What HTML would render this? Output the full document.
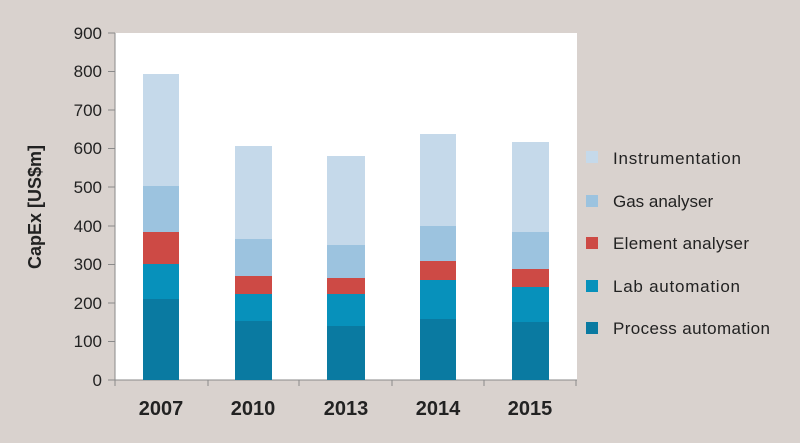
<!DOCTYPE html>
<html><head><style>body{margin:0}svg{display:block}</style></head><body>
<svg width="800" height="443" xmlns="http://www.w3.org/2000/svg" font-family="Liberation Sans, sans-serif">
<rect width="800" height="443" fill="#d9d2ce"/>
<rect x="115" y="33" width="462" height="347" fill="#fff"/>
<g stroke="#8a8a8a" stroke-width="1">
<line x1="115" y1="33" x2="115" y2="380"/>
<line x1="115" y1="380" x2="577" y2="380"/>
<line x1="108" y1="33" x2="115" y2="33"/><line x1="108" y1="71.5" x2="115" y2="71.5"/><line x1="108" y1="110" x2="115" y2="110"/><line x1="108" y1="148.5" x2="115" y2="148.5"/><line x1="108" y1="187" x2="115" y2="187"/><line x1="108" y1="226" x2="115" y2="226"/><line x1="108" y1="264.5" x2="115" y2="264.5"/><line x1="108" y1="303" x2="115" y2="303"/><line x1="108" y1="341.5" x2="115" y2="341.5"/><line x1="108" y1="380" x2="115" y2="380"/>
<line x1="115" y1="380" x2="115" y2="386"/><line x1="208" y1="380" x2="208" y2="386"/><line x1="299" y1="380" x2="299" y2="386"/><line x1="392" y1="380" x2="392" y2="386"/><line x1="484" y1="380" x2="484" y2="386"/><line x1="576" y1="380" x2="576" y2="386"/>
</g>
<g font-size="17" fill="#222" text-anchor="end">
<text x="102" y="39">900</text><text x="102" y="77">800</text><text x="102" y="116">700</text><text x="102" y="154">600</text><text x="102" y="193">500</text><text x="102" y="232">400</text><text x="102" y="270">300</text><text x="102" y="309">200</text><text x="102" y="347">100</text><text x="102" y="386">0</text>
</g>
<text transform="translate(41,207) rotate(-90)" text-anchor="middle" font-size="18" font-weight="bold" fill="#222">CapEx [US$m]</text>
<g font-size="20" font-weight="bold" fill="#222" text-anchor="middle">
<text x="161" y="415">2007</text><text x="253" y="415">2010</text><text x="346" y="415">2013</text><text x="438" y="415">2014</text><text x="530" y="415">2015</text>
</g>
<g>
<rect x="143" y="74" width="36" height="112" fill="#c5d9ea"/><rect x="143" y="186" width="36" height="46" fill="#9cc3df"/><rect x="143" y="232" width="36" height="32" fill="#cd4a45"/><rect x="143" y="264" width="36" height="35" fill="#0791bb"/><rect x="143" y="299" width="36" height="81" fill="#0a7aa1"/>
<rect x="235" y="146" width="37" height="93" fill="#c5d9ea"/><rect x="235" y="239" width="37" height="37" fill="#9cc3df"/><rect x="235" y="276" width="37" height="18" fill="#cd4a45"/><rect x="235" y="294" width="37" height="27" fill="#0791bb"/><rect x="235" y="321" width="37" height="59" fill="#0a7aa1"/>
<rect x="327" y="156" width="38" height="89" fill="#c5d9ea"/><rect x="327" y="245" width="38" height="33" fill="#9cc3df"/><rect x="327" y="278" width="38" height="16" fill="#cd4a45"/><rect x="327" y="294" width="38" height="32" fill="#0791bb"/><rect x="327" y="326" width="38" height="54" fill="#0a7aa1"/>
<rect x="420" y="134" width="36" height="92" fill="#c5d9ea"/><rect x="420" y="226" width="36" height="35" fill="#9cc3df"/><rect x="420" y="261" width="36" height="19" fill="#cd4a45"/><rect x="420" y="280" width="36" height="39" fill="#0791bb"/><rect x="420" y="319" width="36" height="61" fill="#0a7aa1"/>
<rect x="512" y="142" width="37" height="90" fill="#c5d9ea"/><rect x="512" y="232" width="37" height="37" fill="#9cc3df"/><rect x="512" y="269" width="37" height="18" fill="#cd4a45"/><rect x="512" y="287" width="37" height="35" fill="#0791bb"/><rect x="512" y="322" width="37" height="58" fill="#0a7aa1"/>
</g>
<g font-size="17" fill="#222">
<rect x="586" y="151" width="12" height="12" fill="#c5d9ea"/><text x="613" y="164" textLength="128">Instrumentation</text>
<rect x="586" y="195" width="12" height="12" fill="#9cc3df"/><text x="613" y="207">Gas analyser</text>
<rect x="586" y="237" width="12" height="12" fill="#cd4a45"/><text x="613" y="249" textLength="136">Element analyser</text>
<rect x="586" y="280" width="12" height="12" fill="#0791bb"/><text x="613" y="292" textLength="127">Lab automation</text>
<rect x="586" y="322" width="12" height="12" fill="#0a7aa1"/><text x="613" y="334" textLength="157">Process automation</text>
</g>
</svg>
</body></html>
